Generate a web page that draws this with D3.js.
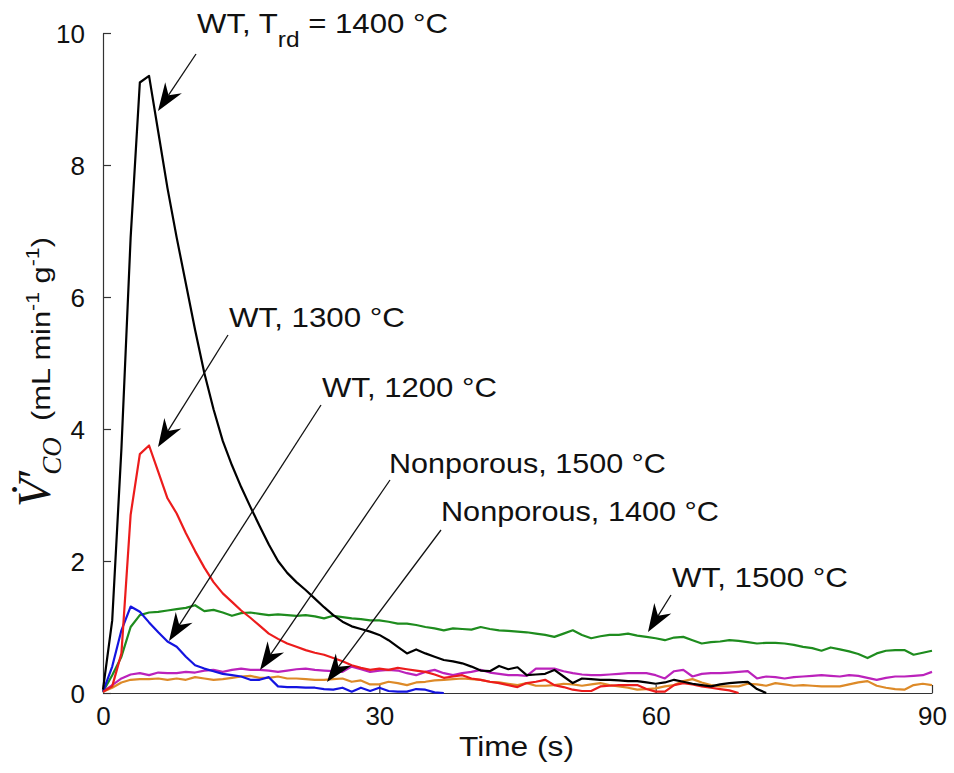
<!DOCTYPE html>
<html>
<head>
<meta charset="utf-8">
<script src="https://cdn.jsdelivr.net/npm/d3@7"></script>
<style>
  html, body { margin: 0; padding: 0; background: #fff; }
  svg { display: block; font-family: "Liberation Sans", Arial, sans-serif; }
</style>
</head>
<body>
<svg id="chart" width="954" height="773"></svg>
<script>
// Time base (s), 1 s sampling
const time = d3.range(0, 91);

// Specific CO production rate (mL min^-1 g^-1) for each run
const wt1400 = [0.05,1.1,3.7,6.9,9.25,9.35,8.5,7.65,6.9,6.2,5.5,4.85,4.3,3.82,3.45,3.12,2.82,2.53,2.25,2.0,
  1.82,1.68,1.56,1.43,1.3,1.18,1.08,1.01,0.97,0.93,0.88,0.8,0.7,0.6,0.66,0.6,0.55,0.5,0.48,0.45,
  0.4,0.34,0.33,0.41,0.36,0.39,0.27,0.28,0.29,0.35,0.25,0.15,0.22,0.21,0.2,0.2,0.19,0.18,0.18,0.16,
  0.14,0.16,0.2,0.17,0.14,0.12,0.1,0.13,0.15,0.16,0.17,0.06,0.0];
const wt1300 = [0.02,0.1,0.6,2.7,3.62,3.75,3.35,2.95,2.72,2.42,2.15,1.9,1.68,1.51,1.38,1.25,1.14,1.02,0.9,0.82,
  0.75,0.7,0.65,0.61,0.58,0.53,0.48,0.42,0.38,0.35,0.37,0.35,0.38,0.36,0.34,0.32,0.28,0.23,0.25,0.27,
  0.22,0.2,0.17,0.15,0.12,0.09,0.15,0.17,0.2,0.12,0.09,0.05,0.03,0.03,0.1,0.11,0.12,0.12,0.12,0.06,
  0.02,0.02,0.12,0.15,0.13,0.1,0.08,0.06,0.04,0.0];
const wt1200 = [0.02,0.4,0.95,1.31,1.23,1.07,0.92,0.78,0.7,0.55,0.42,0.37,0.33,0.29,0.27,0.25,0.2,0.2,0.24,0.1,
  0.09,0.09,0.08,0.08,0.06,0.05,0.08,0.02,0.08,0.03,0.08,0.03,0.02,0.02,0.06,0.05,0.01,0.0];
const wt1500 = [0.02,0.27,0.55,1.0,1.18,1.22,1.23,1.25,1.27,1.29,1.33,1.24,1.26,1.22,1.17,1.21,1.22,1.2,1.18,1.19,
  1.18,1.17,1.18,1.16,1.13,1.17,1.15,1.13,1.12,1.1,1.1,1.08,1.05,1.05,1.03,1.0,0.98,0.95,0.98,0.97,
  0.96,1.0,0.97,0.95,0.94,0.93,0.92,0.9,0.88,0.85,0.9,0.95,0.88,0.83,0.86,0.88,0.88,0.9,0.87,0.85,
  0.83,0.8,0.84,0.85,0.8,0.75,0.77,0.78,0.8,0.79,0.77,0.75,0.76,0.76,0.75,0.73,0.7,0.68,0.64,0.69,
  0.66,0.63,0.59,0.53,0.6,0.64,0.65,0.65,0.58,0.61,0.64];
const np1500 = [0.02,0.12,0.22,0.28,0.3,0.27,0.31,0.3,0.3,0.32,0.31,0.34,0.35,0.32,0.35,0.37,0.35,0.35,0.34,0.32,
  0.34,0.36,0.37,0.35,0.34,0.33,0.32,0.4,0.36,0.32,0.34,0.35,0.34,0.3,0.27,0.32,0.35,0.3,0.27,0.3,
  0.32,0.35,0.31,0.29,0.27,0.27,0.26,0.37,0.37,0.37,0.33,0.3,0.28,0.27,0.27,0.28,0.29,0.3,0.3,0.3,
  0.27,0.22,0.33,0.35,0.25,0.29,0.3,0.3,0.31,0.32,0.33,0.22,0.25,0.24,0.22,0.24,0.25,0.26,0.27,0.26,
  0.25,0.27,0.26,0.23,0.2,0.23,0.25,0.25,0.26,0.27,0.32];
const np1400 = [0.02,0.08,0.16,0.2,0.21,0.21,0.22,0.2,0.22,0.2,0.24,0.22,0.2,0.21,0.23,0.25,0.26,0.23,0.23,0.25,
  0.22,0.22,0.21,0.2,0.2,0.21,0.22,0.17,0.19,0.13,0.13,0.17,0.15,0.12,0.16,0.17,0.19,0.2,0.21,0.22,
  0.21,0.2,0.17,0.16,0.14,0.12,0.15,0.11,0.11,0.12,0.14,0.13,0.11,0.13,0.15,0.12,0.1,0.08,0.05,0.06,
  0.07,0.1,0.12,0.18,0.21,0.16,0.12,0.1,0.1,0.1,0.14,0.13,0.11,0.15,0.13,0.11,0.12,0.11,0.1,0.1,
  0.1,0.13,0.16,0.18,0.11,0.08,0.06,0.05,0.12,0.14,0.12];

// Axis ticks
const xTicks = [0, 30, 60, 90];
const yTicks = [0, 2, 4, 6, 8, 10];

const series = [
  { name: "WT, 1500 °C", values: wt1500, color: "#1e8c1e" },
  { name: "Nonporous, 1500 °C", values: np1500, color: "#bb22bb" },
  { name: "Nonporous, 1400 °C", values: np1400, color: "#dd8a28" },
  { name: "WT, 1200 °C", values: wt1200, color: "#1414e0" },
  { name: "WT, 1300 °C", values: wt1300, color: "#ec1c1c" },
  { name: "WT, 1400 °C", values: wt1400, color: "#000000" }
];

const svg = d3.select("#chart");
const x = d3.scaleLinear().domain([0, 90]).range([103, 932]);
const y = d3.scaleLinear().domain([0, 10]).range([693, 33]);

// Stretch a text element along its writing direction to a given length
function fitWidth(sel, width, ox, oy) {
  const w = sel.node().getComputedTextLength();
  const k = width / w;
  sel.attr("transform", `translate(${ox},${oy}) scale(${k},1) translate(${-ox},${-oy})`);
}

// Axes: ticks drawn inward
const xAxis = d3.axisBottom(x).tickValues(xTicks).tickSizeInner(-8).tickSizeOuter(0).tickPadding(14);
const yAxis = d3.axisLeft(y).tickValues(yTicks).tickSizeInner(-8).tickSizeOuter(0).tickPadding(18);

const gx = svg.append("g").attr("transform", `translate(0,${y(0)})`).call(xAxis);
const gy = svg.append("g").attr("transform", `translate(${x(0)},0)`).call(yAxis);
[gx, gy].forEach(g => {
  g.select(".domain").attr("stroke", "#333").attr("stroke-width", 1.2);
  g.selectAll(".tick line").attr("stroke", "#333").attr("stroke-width", 1.2);
  g.selectAll(".tick text").attr("font-size", 26).attr("fill", "#111")
    .attr("font-family", "'Liberation Sans', Arial, sans-serif");
});
gx.selectAll(".tick text").attr("dy", "0.71em");
gy.selectAll(".tick text").attr("dy", "0.36em");

// Data lines
const line = d3.line().x((d, i) => x(time[i])).y(d => y(d));
svg.append("g").selectAll("path").data(series).join("path")
  .attr("d", s => line(s.values))
  .attr("fill", "none")
  .attr("stroke", s => s.color)
  .attr("stroke-width", 2.2)
  .attr("stroke-linejoin", "round");

// Axis titles
const xt = svg.append("text")
  .attr("x", 459).attr("y", 756)
  .attr("font-size", 27).attr("fill", "#111")
  .text("Time (s)");
fitWidth(xt, 115, 459, 756);

const sym = svg.append("text")
  .attr("transform", "translate(50,507) rotate(-90)")
  .attr("fill", "#111")
  .attr("font-family", "'Liberation Serif', 'Times New Roman', serif")
  .attr("font-style", "italic");
sym.append("tspan").attr("font-size", 46).text("V\u0307");
sym.append("tspan").attr("font-size", 46).attr("dx", -2).text("\u2032");
sym.append("tspan").attr("font-size", 27).attr("dy", 11).attr("dx", -4).text("CO");

const units = svg.append("g").attr("transform", "translate(50,421) rotate(-90)")
  .append("text").attr("fill", "#111").attr("font-size", 26);
units.append("tspan").text("(mL min");
units.append("tspan").attr("font-size", 18).attr("dy", -11).text("-1");
units.append("tspan").attr("dy", 11).text(" g");
units.append("tspan").attr("font-size", 18).attr("dy", -11).text("-1");
units.append("tspan").attr("dy", 11).text(")");
fitWidth(units, 184, 0, 0);

// Annotations: text anchor, line start and arrow tip in data units; target text width in px
const toT = px => x.invert(px), toV = py => y.invert(py);
const notes = [
  { parts: [["WT, T", 0], ["rd", 1], [" = 1400 °C", 0]], tx: toT(197), ty: toV(33), w: 251,
    from: [toT(196), toV(54)], tip: [toT(158), toV(111)] },
  { parts: [["WT, 1300 °C", 0]], tx: toT(229), ty: toV(327), w: 176,
    from: [toT(228), toV(335)], tip: [toT(158), toV(447)] },
  { parts: [["WT, 1200 °C", 0]], tx: toT(322), ty: toV(397), w: 175,
    from: [toT(321), toV(405)], tip: [toT(169), toV(641)] },
  { parts: [["Nonporous, 1500 °C", 0]], tx: toT(389), ty: toV(473), w: 277,
    from: [toT(390), toV(480)], tip: [toT(260), toV(670)] },
  { parts: [["Nonporous, 1400 °C", 0]], tx: toT(441), ty: toV(521), w: 278,
    from: [toT(441), toV(530)], tip: [toT(327), toV(682)] },
  { parts: [["WT, 1500 °C", 0]], tx: toT(672), ty: toV(587), w: 176,
    from: [toT(671), toV(595)], tip: [toT(648), toV(632)] }
];

const ann = svg.append("g");
notes.forEach(n => {
  const tx = x(n.tx), ty = y(n.ty);
  const t = ann.append("text").attr("x", tx).attr("y", ty)
    .attr("font-size", 28).attr("fill", "#111");
  let sub = 0;
  n.parts.forEach(([str, s]) => {
    const ts = t.append("tspan").text(str);
    if (s && !sub) { ts.attr("dy", 14).attr("font-size", 22); sub = 1; }
    else if (!s && sub) { ts.attr("dy", -14); sub = 0; }
  });
  fitWidth(t, n.w, tx, ty);

  const x0 = x(n.from[0]), y0 = y(n.from[1]);
  const x1 = x(n.tip[0]), y1 = y(n.tip[1]);
  const ang = Math.atan2(y1 - y0, x1 - x0);
  const L = 28, W = 10, N = 19;
  const ux = Math.cos(ang), uy = Math.sin(ang), px = -uy, py = ux;
  ann.append("line")
    .attr("x1", x0).attr("y1", y0)
    .attr("x2", x1 - ux * N).attr("y2", y1 - uy * N)
    .attr("stroke", "#111").attr("stroke-width", 1.3);
  const head = [
    [x1, y1],
    [x1 - ux * L + px * W, y1 - uy * L + py * W],
    [x1 - ux * N, y1 - uy * N],
    [x1 - ux * L - px * W, y1 - uy * L - py * W]
  ];
  ann.append("path").attr("d", "M" + head.map(p => p.join(",")).join("L") + "Z")
    .attr("fill", "#000");
});
</script>
</body>
</html>
